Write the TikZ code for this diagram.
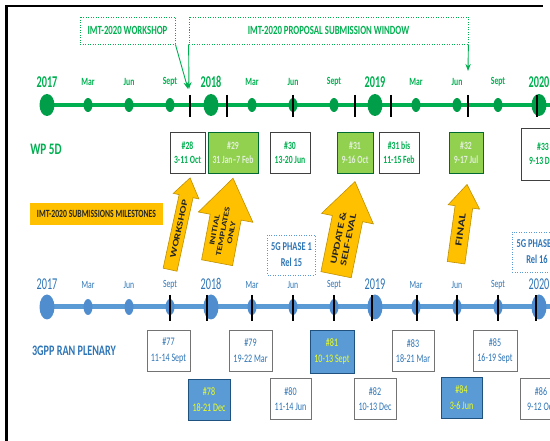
\documentclass[tikz,border=0pt]{standalone}
\usepackage{fontspec}
\setmainfont{Carlito}[FakeStretch=0.7]
\newfontfamily\yearfont{Carlito}[FakeStretch=0.62]
\newfontfamily\tiltfont{Carlito}[FakeStretch=1.4]
\usetikzlibrary{arrows.meta,positioning,shapes.arrows}

\definecolor{wpgreen}{RGB}{0,176,80}
\definecolor{wpdot}{RGB}{0,158,72}
\definecolor{wpfill}{RGB}{146,208,80}
\definecolor{wppale}{RGB}{226,240,217}
\definecolor{ranblue}{RGB}{91,155,213}
\definecolor{randot}{RGB}{79,141,206}
\definecolor{rantext}{RGB}{46,117,182}
\definecolor{ranyellow}{RGB}{238,255,30}
\definecolor{mileorange}{RGB}{255,192,0}
\definecolor{miledge}{RGB}{191,144,0}

\begin{document}
\begin{tikzpicture}[x=1pt, y=-1pt, >=Stealth,
  wpbox/.style={draw=black!75, line width=0.9pt, fill=white, text=wpgreen, align=center, inner sep=1pt,
    minimum height=41pt, font=\fontsize{11}{14}\selectfont\bfseries},
  wpkey/.style={wpbox, draw=wpgreen!60!black, fill=wpfill, text=wppale},
  ranbox/.style={draw=black!55, line width=0.9pt, fill=white, text=rantext, align=center, inner sep=1pt,
    minimum height=41pt, font=\fontsize{11.5}{15.5}\selectfont},
  rankey/.style={ranbox, draw=rantext!70!black, fill=ranblue, text=ranyellow},
  gmonth/.style={text=wpgreen, font=\fontsize{11}{13}\selectfont\bfseries},
  gyear/.style={text=wpgreen, font=\yearfont\fontsize{16.5}{18}\selectfont\bfseries},
  bmonth/.style={text=rantext, font=\fontsize{11}{13}\selectfont},
  byear/.style={text=rantext, font=\yearfont\fontsize{16.5}{18}\selectfont},
  winbox/.style={draw=wpgreen, line width=0.8pt, dash pattern=on 1pt off 1.5pt, text=wpgreen,
    minimum height=27pt, font=\fontsize{12.5}{14}\selectfont\bfseries},
  relbox/.style={draw=ranblue, line width=0.8pt, dash pattern=on 1pt off 1.5pt, text=rantext, align=center,
    minimum width=47pt, minimum height=40pt, font=\fontsize{12}{16}\selectfont\bfseries},
  milearrow/.style={single arrow, draw=miledge, fill=mileorange, line width=0.6pt, anchor=tail,
    align=center, single arrow tip angle=70, inner xsep=2pt, text=black!85}]
\useasboundingbox (0,0) rectangle (550,441);
\clip (0,0) rectangle (550,441);
\draw[line width=3pt] (6.5,441) -- (6.5,6);
\draw[line width=2pt] (5,6) -- (543,6);

% submission window
\node[winbox, minimum width=95pt] (wshop) at (127.5,30.5) {IMT-2020 WORKSHOP};
\node[winbox, minimum width=279pt] (window) at (328.5,30.5) {IMT-2020 PROPOSAL SUBMISSION WINDOW};
\coordinate (wshopend) at (188,89);
\coordinate (winstart) at (189,89);
\coordinate (winend) at (468,71);
\draw[->, wpgreen, line width=0.9pt] (wshop.south east) -- (wshopend);
\draw[->, wpgreen, line width=0.9pt] (window.south west) -- (winstart);
\draw[->, wpgreen, line width=0.9pt] (window.south east) -- (winend);

% WP 5D timeline
\coordinate (gstart) at (40,105);
\coordinate (gend) at (552,105);
\draw[wpgreen, line width=4pt] (gstart) -- (gend);
\foreach \x in {47,211,375,539} \fill[wpdot] (\x,105) ellipse [x radius=7.5pt, y radius=11pt];
\foreach \x in {88,129,170,252,293,334,416,457,498} \fill[wpdot] (\x,105) ellipse [x radius=4.5pt, y radius=7pt];
\foreach \x in {190,227,293,355,391,468,537} \draw[line width=1.2pt] (\x,95) -- (\x,117);
\foreach \x/\t in {47/2017,211/2018,375/2019,539/2020} \node[gyear] (gy\t) at (\x,82) {\t};
\foreach \x/\t [count=\i] in {88/Mar,129/Jun,170/Sept,252/Mar,293/Jun,334/Sept,416/Mar,457/Jun,498/Sept}
  \node[gmonth] (gm\i) at (\x,82) {\t};

\node[text=wpgreen, font=\fontsize{16}{18}\selectfont\bfseries] (wplabel) at (46,149) {WP 5D};
\node[wpbox, minimum width=35pt] (m28) at (187.5,152.5) {\#28\\3-11 Oct};
\node[wpkey, minimum width=50pt] (m29) at (233,152.5) {\#29\\31 Jan--7 Feb};
\node[wpbox, minimum width=40pt] (m30) at (290,152.5) {\#30\\13-20 Jun};
\node[wpkey, minimum width=36pt] (m31) at (355,152.5) {\#31\\9-16 Oct};
\node[wpbox, minimum width=40pt] (m31b) at (399,152.5) {\#31 bis\\11-15 Feb};
\node[wpkey, minimum width=34pt] (m32) at (466,152.5) {\#32\\9-17 Jul};
\node[wpbox, minimum width=44pt, minimum height=52pt] (m33) at (543,154) {\#33\\9-13 Dec};

% milestones
\node[fill=mileorange, minimum width=133pt, minimum height=22pt, inner sep=0pt, text=black!85,
  font=\fontsize{11}{13}\selectfont\bfseries] (milestones) at (96.5,214) {IMT-2020 SUBMISSIONS MILESTONES};
\node[milearrow, rotate=77.7, minimum height=94pt, single arrow head extend=6pt, inner ysep=4pt,
  font=\tiltfont\fontsize{8.5}{10}\selectfont\bfseries] (arwork) at (170,270) {WORKSHOP};
\node[milearrow, rotate=79.3, minimum height=86pt, single arrow head extend=12pt, inner ysep=4.5pt,
  font=\tiltfont\fontsize{7.5}{8.5}\selectfont\bfseries] (artempl) at (217,263) {INITIAL\\TEMPLATES\\ONLY};
\node[milearrow, rotate=78.5, minimum height=95pt, single arrow head extend=11pt, inner ysep=7pt,
  font=\tiltfont\fontsize{9}{10}\selectfont\bfseries] (arupd) at (336,275) {UPDATE \&\\SELF-EVAL};
\node[milearrow, rotate=82, minimum height=79pt, single arrow head extend=7pt, inner ysep=5.5pt,
  font=\tiltfont\fontsize{9.5}{11}\selectfont\bfseries] (arfinal) at (456,263) {FINAL};

\node[relbox] (phase1) at (291.5,255) {5G PHASE 1\\Rel 15};
\node[relbox, minimum width=50pt] (phase2) at (537,252) {5G PHASE 2\\Rel 16};

% 3GPP timeline
\coordinate (bstart) at (40,307);
\coordinate (bend) at (552,307);
\draw[ranblue, line width=5pt] (bstart) -- (bend);
\foreach \x in {47,211,375,539} \fill[randot] (\x,307) ellipse [x radius=7.5pt, y radius=12.5pt];
\foreach \x in {88,129,170,252,293,334,416,457,498} \fill[randot] (\x,307) ellipse [x radius=4.5pt, y radius=8pt];
\foreach \x in {170,207,252,293,334,372,417,457,498,536} \draw[line width=1.2pt] (\x,295) -- (\x,321);
\foreach \x/\t in {47/2017,211/2018,375/2019,539/2020} \node[byear] (by\t) at (\x,284) {\t};
\foreach \x/\t [count=\i] in {88/Mar,129/Jun,170/Sept,252/Mar,293/Jun,334/Sept,416/Mar,457/Jun,498/Sept}
  \node[bmonth] (bm\i) at (\x,285) {\t};

\node[text=rantext, font=\fontsize{14.5}{17}\selectfont\bfseries] (ranlabel) at (74,351) {3GPP RAN PLENARY};
\node[ranbox, minimum width=43pt] (r77) at (168.5,350.5) {\#77\\11-14 Sept};
\node[ranbox, minimum width=43pt] (r79) at (250.5,350.5) {\#79\\19-22 Mar};
\node[rankey, minimum width=44pt, minimum height=43pt] (r81) at (332,351.5) {\#81\\10-13 Sept};
\node[ranbox, minimum width=42pt] (r83) at (413,351) {\#83\\18-21 Mar};
\node[ranbox, minimum width=44pt] (r85) at (495,351) {\#85\\16-19 Sept};
\node[rankey, minimum width=42pt] (r78) at (209,399.5) {\#78\\18-21 Dec};
\node[ranbox, minimum width=41pt] (r80) at (290.5,399) {\#80\\11-14 Jun};
\node[ranbox, minimum width=42pt] (r82) at (375,399) {\#82\\10-13 Dec};
\node[rankey, minimum width=41pt] (r84) at (461.5,397.5) {\#84\\3-6 Jun};
\node[ranbox, minimum width=42pt] (r86) at (541,399) {\#86\\9-12 Oct};
\end{tikzpicture}
\end{document}
